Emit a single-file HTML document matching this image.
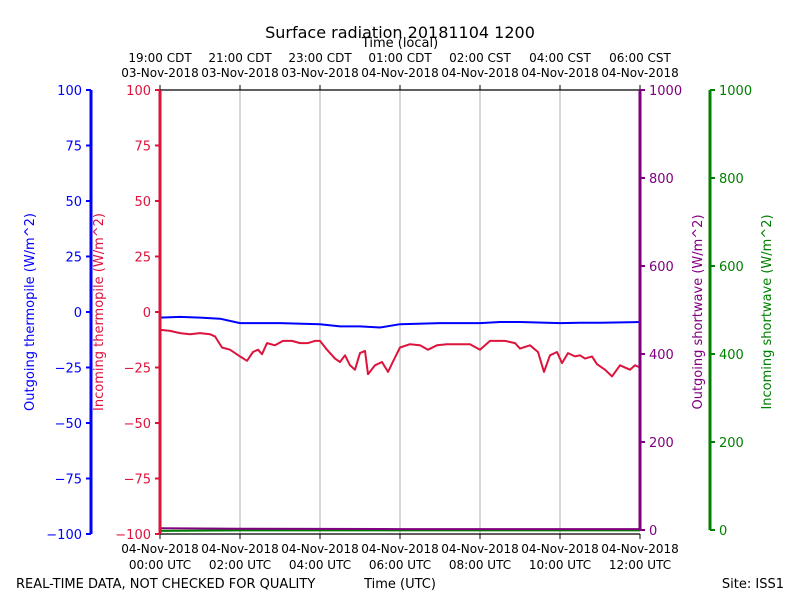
<!DOCTYPE html>
<html><head><meta charset="utf-8"><style>
body{margin:0;background:#fff}
svg{display:block;font-family:"DejaVu Sans","Liberation Sans",sans-serif}
</style></head><body>
<svg id="c" width="800" height="600">
<g id="g"></g>
<text x="400" y="38" font-size="16" text-anchor="middle">Surface radiation 20181104 1200</text>
<text x="400" y="47" font-size="13" text-anchor="middle">Time (local)</text>
<text x="400" y="588" font-size="13" text-anchor="middle">Time (UTC)</text>
<text x="16" y="588" font-size="13">REAL-TIME DATA, NOT CHECKED FOR QUALITY</text>
<text x="784" y="588" font-size="13" text-anchor="end">Site: ISS1</text>
<text transform="translate(34,312) rotate(-90)" font-size="13" fill="blue" text-anchor="middle">Outgoing thermopile (W/m^2)</text>
<text transform="translate(103,312) rotate(-90)" font-size="13" fill="crimson" text-anchor="middle">Incoming thermopile (W/m^2)</text>
<text transform="translate(702,312) rotate(-90)" font-size="13" fill="purple" text-anchor="middle">Outgoing shortwave (W/m^2)</text>
<text transform="translate(771,312) rotate(-90)" font-size="13" fill="green" text-anchor="middle">Incoming shortwave (W/m^2)</text>
</svg>
<script>
const hours=[0,0.25,0.5,0.75,1,1.25,1.375,1.55,1.75,2,2.175,2.325,2.45,2.55,2.675,2.875,3.075,3.3,3.5,3.7,3.875,4,4.175,4.375,4.5,4.625,4.75,4.875,5,5.125,5.2,5.375,5.55,5.7,5.875,6,6.25,6.5,6.7,6.925,7.175,7.5,7.75,8,8.25,8.625,8.875,9,9.25,9.45,9.6,9.75,9.925,10.05,10.2,10.375,10.5,10.625,10.8,10.925,11.125,11.3,11.5,11.75,11.875,12];
const incomingThermo=[-8,-8.5,-9.5,-10,-9.5,-10,-11,-16,-17,-20,-22,-18,-17,-19,-14,-15,-13,-13,-14,-14,-13,-13,-17,-21,-22.5,-19.5,-24,-26,-18.5,-17.5,-28,-24,-22.5,-27,-20.5,-16,-14.5,-15,-17,-15,-14.5,-14.5,-14.5,-17,-13,-13,-14,-16.5,-15,-18,-27,-19.5,-18,-23,-18.5,-20,-19.5,-21,-20,-23.5,-26,-29,-24,-26,-24,-25];
const outHours=[0,0.5,1,1.5,2,3,4,4.5,5,5.5,6,7,8,8.5,9,10,10.5,11,12];
const outgoingThermo=[-2.5,-2.2,-2.5,-3,-5,-5,-5.5,-6.5,-6.5,-7,-5.5,-5,-5,-4.5,-4.5,-5,-4.8,-4.8,-4.5];
const swHours=[0,2,6,12];
const outgoingSW=[4,3,2,2];
const incomingSW=[-2,-1,-1,-1];
const topLabels=[["19:00 CDT","03-Nov-2018"],["21:00 CDT","03-Nov-2018"],["23:00 CDT","03-Nov-2018"],["01:00 CDT","04-Nov-2018"],["02:00 CST","04-Nov-2018"],["04:00 CST","04-Nov-2018"],["06:00 CST","04-Nov-2018"]];
const botLabels=[["04-Nov-2018","00:00 UTC"],["04-Nov-2018","02:00 UTC"],["04-Nov-2018","04:00 UTC"],["04-Nov-2018","06:00 UTC"],["04-Nov-2018","08:00 UTC"],["04-Nov-2018","10:00 UTC"],["04-Nov-2018","12:00 UTC"]];
const thermoTicks=[100,75,50,25,0,-25,-50,-75,-100];
const swTicks=[0,200,400,600,800,1000];

const X=h=>160+h*40;
const YT=v=>90+(100-v)*2.22;
const YS=v=>530-v*0.44;
const g=document.getElementById('g');
const NS='http://www.w3.org/2000/svg';
function mk(t,a,txt){const e=document.createElementNS(NS,t);for(const k in a)e.setAttribute(k,a[k]);if(txt!==undefined)e.textContent=txt;g.appendChild(e);return e;}
for(let i=1;i<6;i++){const e=mk('line',{x1:X(i*2),x2:X(i*2),y1:90,y2:534,stroke:'#b0b0b0','stroke-width':1});

}
mk('line',{x1:160,x2:640,y1:90,y2:90,stroke:'#000','stroke-width':1.2});
mk('line',{x1:160,x2:640,y1:534,y2:534,stroke:'#000','stroke-width':1.2});
function poly(xs,ys,fx,fy,col,w,name){const p=xs.map((h,i)=>X(h).toFixed(1)+','+fy(ys[i]).toFixed(1)).join(' ');
const e=mk('polyline',{points:p,fill:'none',stroke:col,'stroke-width':w,'stroke-linejoin':'round'});

}
poly(swHours,incomingSW,X,YS,'green',2,'incoming-shortwave-line');
poly(swHours,outgoingSW,X,YS,'purple',2,'outgoing-shortwave-line');
poly(outHours,outgoingThermo,X,YT,'blue',2,'outgoing-thermopile-line');
poly(hours,incomingThermo,X,YT,'crimson',2,'incoming-thermopile-line');
for(let i=0;i<7;i++){const x=X(i*2);
mk('line',{x1:x,x2:x,y1:534,y2:539,stroke:'#000'});
mk('line',{x1:x,x2:x,y1:90,y2:85,stroke:'#000'});
let t=mk('text',{x:x,y:553,'font-size':12,'text-anchor':'middle'},botLabels[i][0]);


mk('text',{x:x,y:569,'font-size':12,'text-anchor':'middle'},botLabels[i][1]);
t=mk('text',{x:x,y:62,'font-size':12,'text-anchor':'middle'},topLabels[i][0]);


mk('text',{x:x,y:77,'font-size':12,'text-anchor':'middle'},topLabels[i][1]);}
function yaxis(ax,col,ticks,fy,side,name){mk('line',{x1:ax,x2:ax,y1:fy(ticks[0]),y2:fy(ticks[ticks.length-1]),stroke:col,'stroke-width':3});
ticks.forEach(v=>{const y=fy(v);mk('line',{x1:ax,x2:ax+side*5,y1:y,y2:y,stroke:col,'stroke-width':2});
const t=mk('text',{x:ax+side*9,y:y+5,'font-size':13,fill:col,'text-anchor':side<0?'end':'start'},String(v).replace('-','−'));

});}
yaxis(91,'blue',thermoTicks,YT,-1,'outgoing-thermopile');
yaxis(160,'crimson',thermoTicks,YT,-1,'incoming-thermopile');
yaxis(640,'purple',swTicks,YS,1,'outgoing-shortwave');
yaxis(710,'green',swTicks,YS,1,'incoming-shortwave');
</script>
</body></html>
